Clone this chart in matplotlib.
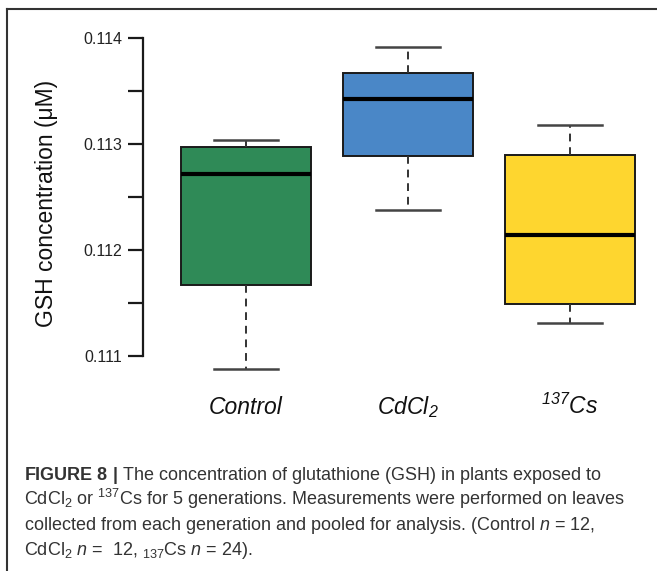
import matplotlib
matplotlib.use("Agg")
import matplotlib.pyplot as plt
from matplotlib.lines import Line2D
from matplotlib.transforms import blended_transform_factory

# Box statistics (GSH, uM)
groups = ["Control", "CdCl$_2$", "$^{137}$Cs"]
whislo = [0.110876, 0.112379, 0.111307]
q1 = [0.111668, 0.112884, 0.111488]
med = [0.112713, 0.113423, 0.112140]
q3 = [0.112975, 0.113673, 0.112900]
whishi = [0.113042, 0.113922, 0.113178]
colors = ["#2f8a57", "#4a87c7", "#fed62f"]

yticks_major = [0.111, 0.112, 0.113, 0.114]
yticks_minor = [0.1115, 0.1125, 0.1135]

caption = [
    r"$\mathbf{FIGURE\ 8\ |}$ The concentration of glutathione (GSH) in plants exposed to",
    r"CdCl$_2$ or $^{137}$Cs for 5 generations. Measurements were performed on leaves",
    r"collected from each generation and pooled for analysis. (Control $\mathit{n}$ = 12,",
    r"CdCl$_2$ $\mathit{n}$ =  12, $_{137}$Cs $\mathit{n}$ = 24).",
]

plt.rcParams["font.family"] = ["Liberation Sans", "DejaVu Sans"]
plt.rcParams["mathtext.default"] = "regular"
plt.rcParams["mathtext.fontset"] = "custom"
plt.rcParams["mathtext.rm"] = "Liberation Sans"
plt.rcParams["mathtext.it"] = "Liberation Sans:italic"
plt.rcParams["mathtext.bf"] = "Liberation Sans:bold"

W, H = 657, 571
fig = plt.figure(figsize=(W / 100, H / 100), dpi=100)

ax_l, ax_r, ax_t, ax_b = 143, 651, 30, 375
ax = fig.add_axes([ax_l / W, 1 - ax_b / H, (ax_r - ax_l) / W, (ax_b - ax_t) / H])

stats = []
for i in range(len(groups)):
    stats.append(dict(whislo=whislo[i], q1=q1[i], med=med[i], q3=q3[i],
                      whishi=whishi[i], fliers=[]))

bp = ax.bxp(stats, positions=[1, 2, 3], widths=0.8, patch_artist=True,
            showfliers=False,
            boxprops=dict(edgecolor="#1a1a1a", linewidth=1.4),
            medianprops=dict(color="black", linewidth=3.0, solid_capstyle="butt"),
            whiskerprops=dict(color="#333333", linewidth=1.4, linestyle=(0, (4, 3))),
            capprops=dict(color="#444444", linewidth=1.8),
            capwidths=0.4)
for patch, c in zip(bp["boxes"], colors):
    patch.set_facecolor(c)

# y scale: 0.114 at 38.3 px, 0.111 at 355.7 px
ppu = (355.7 - 38.3) / 0.003
ax.set_ylim(0.111 - (ax_b - 355.7) / ppu, 0.114 + (38.3 - ax_t) / ppu)
ax.set_xlim(1 - (246 - ax_l) / 162, 3 + (ax_r - 570) / 162)

for s in ["top", "right", "bottom"]:
    ax.spines[s].set_visible(False)
ax.spines["left"].set_bounds(0.111, 0.114)
ax.spines["left"].set_linewidth(1.6)
ax.spines["left"].set_color("#1a1a1a")

ax.set_yticks(yticks_major)
ax.set_yticklabels([f"{v:.3f}" for v in yticks_major])
ax.set_yticks(yticks_minor, minor=True)
ax.tick_params(axis="y", which="both", length=11, width=1.6, color="#1a1a1a")
ax.tick_params(axis="y", which="major", labelsize=11.5, pad=4, labelcolor="#222222")
ax.set_xticks([])

# group labels
trans = blended_transform_factory(ax.transData, fig.transFigure)
for i, g in enumerate(groups):
    ax.text(i + 1, 1 - 414 / H, g, transform=trans, ha="center", va="baseline",
            fontsize=16.5, fontstyle="italic", color="#111111")

fig.text(47 / W, 1 - 203 / H, "GSH concentration (\u03bcM)", rotation=90,
         ha="center", va="center", fontsize=16.5, color="#111111")

for k, line in enumerate(caption):
    fig.text(24 / W, 1 - (480 + 25 * k) / H, line, ha="left", va="baseline",
             fontsize=13, color="#333333")

# frame lines of the figure panel
fig.add_artist(Line2D([7 / W, 1], [1 - 9 / H, 1 - 9 / H], color="#333333",
                      linewidth=1.5, transform=fig.transFigure))
fig.add_artist(Line2D([7 / W, 7 / W], [0, 1 - 9 / H], color="#333333",
                      linewidth=1.5, transform=fig.transFigure))

fig.savefig("out.png", dpi=100)
